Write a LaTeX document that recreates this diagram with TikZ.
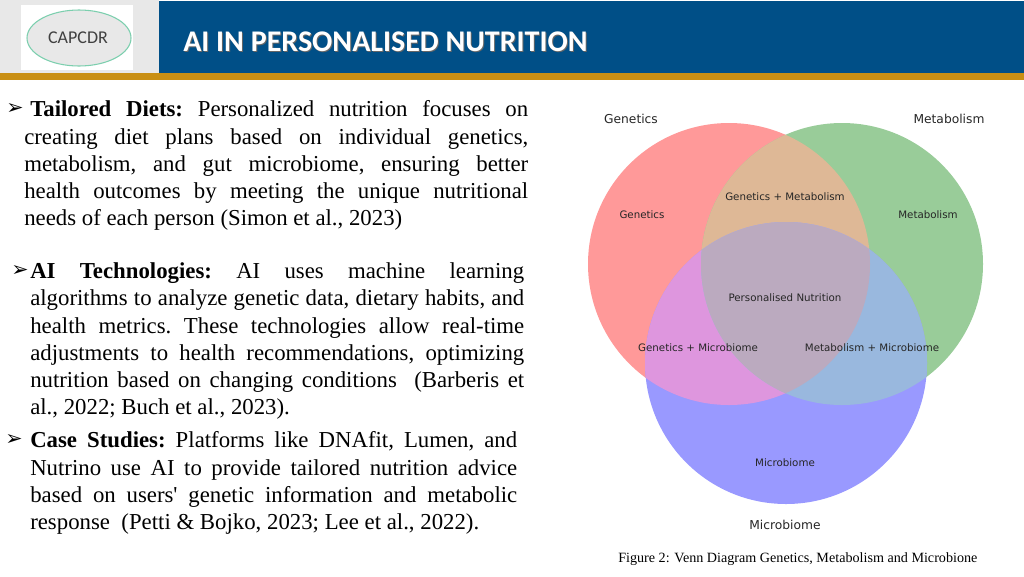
\documentclass[tikz,border=0pt]{standalone}
\usepackage{fontspec}
\setmainfont{Liberation Serif}
\newfontfamily\dejavu{DejaVu Sans}
\newfontfamily\carlito{Carlito}
\definecolor{headblue}{HTML}{004F87}
\definecolor{headgrey}{HTML}{E8E8E8}
\definecolor{headgold}{HTML}{C98F14}
\definecolor{logogreen}{HTML}{7CCFAE}
\definecolor{vennred}{HTML}{FF9999}
\definecolor{venngreen}{HTML}{99CC99}
\definecolor{vennblue}{HTML}{9999FF}
\definecolor{vennrg}{HTML}{DEB896}
\definecolor{vennrb}{HTML}{DE96DE}
\definecolor{venngb}{HTML}{99B8DE}
\definecolor{venncore}{HTML}{BBAABF}
\definecolor{labelgrey}{HTML}{262626}
\tikzset{
	para/.style={anchor=north west, inner sep=0pt, align=justify, font=\fontsize{17.1}{20.45}\selectfont\frenchspacing},
	bulletmark/.style={anchor=west, inner sep=0pt, font=\dejavu\bfseries\fontsize{15.5}{17}\selectfont},
	setlabel/.style={inner sep=0pt, text=labelgrey, font=\dejavu\fontsize{7.7}{9}\selectfont},
	settitle/.style={inner sep=0pt, text=labelgrey, font=\dejavu\fontsize{9.2}{11}\selectfont},
}
\begin{document}
\begin{tikzpicture}[x=0.75pt,y=-0.75pt]
	\useasboundingbox (0,0) rectangle (1024,576);
	% header
	\fill[headgrey] (0,0) rectangle (159,73);
	\fill[headblue] (159,1) rectangle (1024,73);
	\fill[headgold] (0,73) rectangle (1024,80);
	\fill[white] (21,5) rectangle (133,70);
	\filldraw[fill=headgrey, draw=logogreen, thick] (79,38) ellipse (52 and 28);
	\node[text=black!75, inner sep=0pt, font=\carlito\fontsize{13.5}{16}\selectfont] (logo) at (78,38) {CAPCDR};
	\node[anchor=west, inner sep=0pt, text=black!60, font=\carlito\bfseries\fontsize{22.5}{26}\selectfont] (titleshadow) at (184,43) {AI IN PERSONALISED NUTRITION};
	\node[anchor=west, inner sep=0pt, text=white, font=\carlito\bfseries\fontsize{22.5}{26}\selectfont] (title) at (183,42) {AI IN PERSONALISED NUTRITION};
	% text
	\node[bulletmark] (bulleta) at (6,109) {➢};
	\node[para, text width=378pt] (diets) at (24,100.5) {\hspace{4.5pt}\textbf{Tailored Diets:} Personalized nutrition focuses on\linebreak
		creating diet plans based on individual genetics,\linebreak
		metabolism, and gut microbiome, ensuring better\linebreak
		health outcomes by meeting the unique nutritional\linebreak
		needs of each person (Simon et al., 2023)};
	\node[bulletmark] (bulletb) at (11,271) {➢};
	\node[para, text width=370.5pt] (tech) at (30,262.5) {\textbf{AI Technologies:} AI uses machine learning\linebreak
		algorithms to analyze genetic data, dietary habits, and\linebreak
		health metrics. These technologies allow real-time\linebreak
		adjustments to health recommendations, optimizing\linebreak
		nutrition based on changing conditions~ (Barberis et\linebreak
		al., 2022; Buch et al., 2023).};
	\node[bulletmark] (bulletc) at (5,440) {➢};
	\node[para, text width=365.25pt] (cases) at (30,431.5) {\textbf{Case Studies:} Platforms like DNAfit, Lumen, and\linebreak
		Nutrino use AI to provide tailored nutrition advice\linebreak
		based on users\textquotesingle{} genetic information and metabolic\linebreak
		response~ (Petti \& Bojko, 2023; Lee et al., 2022).};
	% venn
	\def\rad{141}
	\coordinate (gen) at (729,264);
	\coordinate (met) at (842,264);
	\coordinate (mic) at (786,363);
	\fill[vennred] (gen) circle (\rad);
	\fill[venngreen] (met) circle (\rad);
	\fill[vennblue] (mic) circle (\rad);
	\begin{scope}
		\clip (gen) circle (\rad);
		\fill[vennrg] (met) circle (\rad);
		\fill[vennrb] (mic) circle (\rad);
	\end{scope}
	\begin{scope}
		\clip (met) circle (\rad);
		\fill[venngb] (mic) circle (\rad);
	\end{scope}
	\begin{scope}
		\clip (gen) circle (\rad);
		\clip (met) circle (\rad);
		\fill[venncore] (mic) circle (\rad);
	\end{scope}
	\node[setlabel] (labgen) at (642,215) {Genetics};
	\node[setlabel] (labmet) at (928,215) {Metabolism};
	\node[setlabel] (labgm) at (785,197) {Genetics + Metabolism};
	\node[setlabel] (labcore) at (785,298) {Personalised Nutrition};
	\node[setlabel] (labgb) at (698,348) {Genetics + Microbiome};
	\node[setlabel] (labmb) at (872,348) {Metabolism + Microbiome};
	\node[setlabel] (labmic) at (785,463) {Microbiome};
	\node[settitle] (titlegen) at (631,119) {Genetics};
	\node[settitle] (titlemet) at (949,119) {Metabolism};
	\node[settitle] (titlemic) at (785,525) {Microbiome};
	\node[anchor=west, inner sep=0pt, font=\fontsize{10.6}{12}\selectfont] (caption) at (618,559) {Figure 2: Venn Diagram Genetics, Metabolism and Microbione};
\end{tikzpicture}
\end{document}
